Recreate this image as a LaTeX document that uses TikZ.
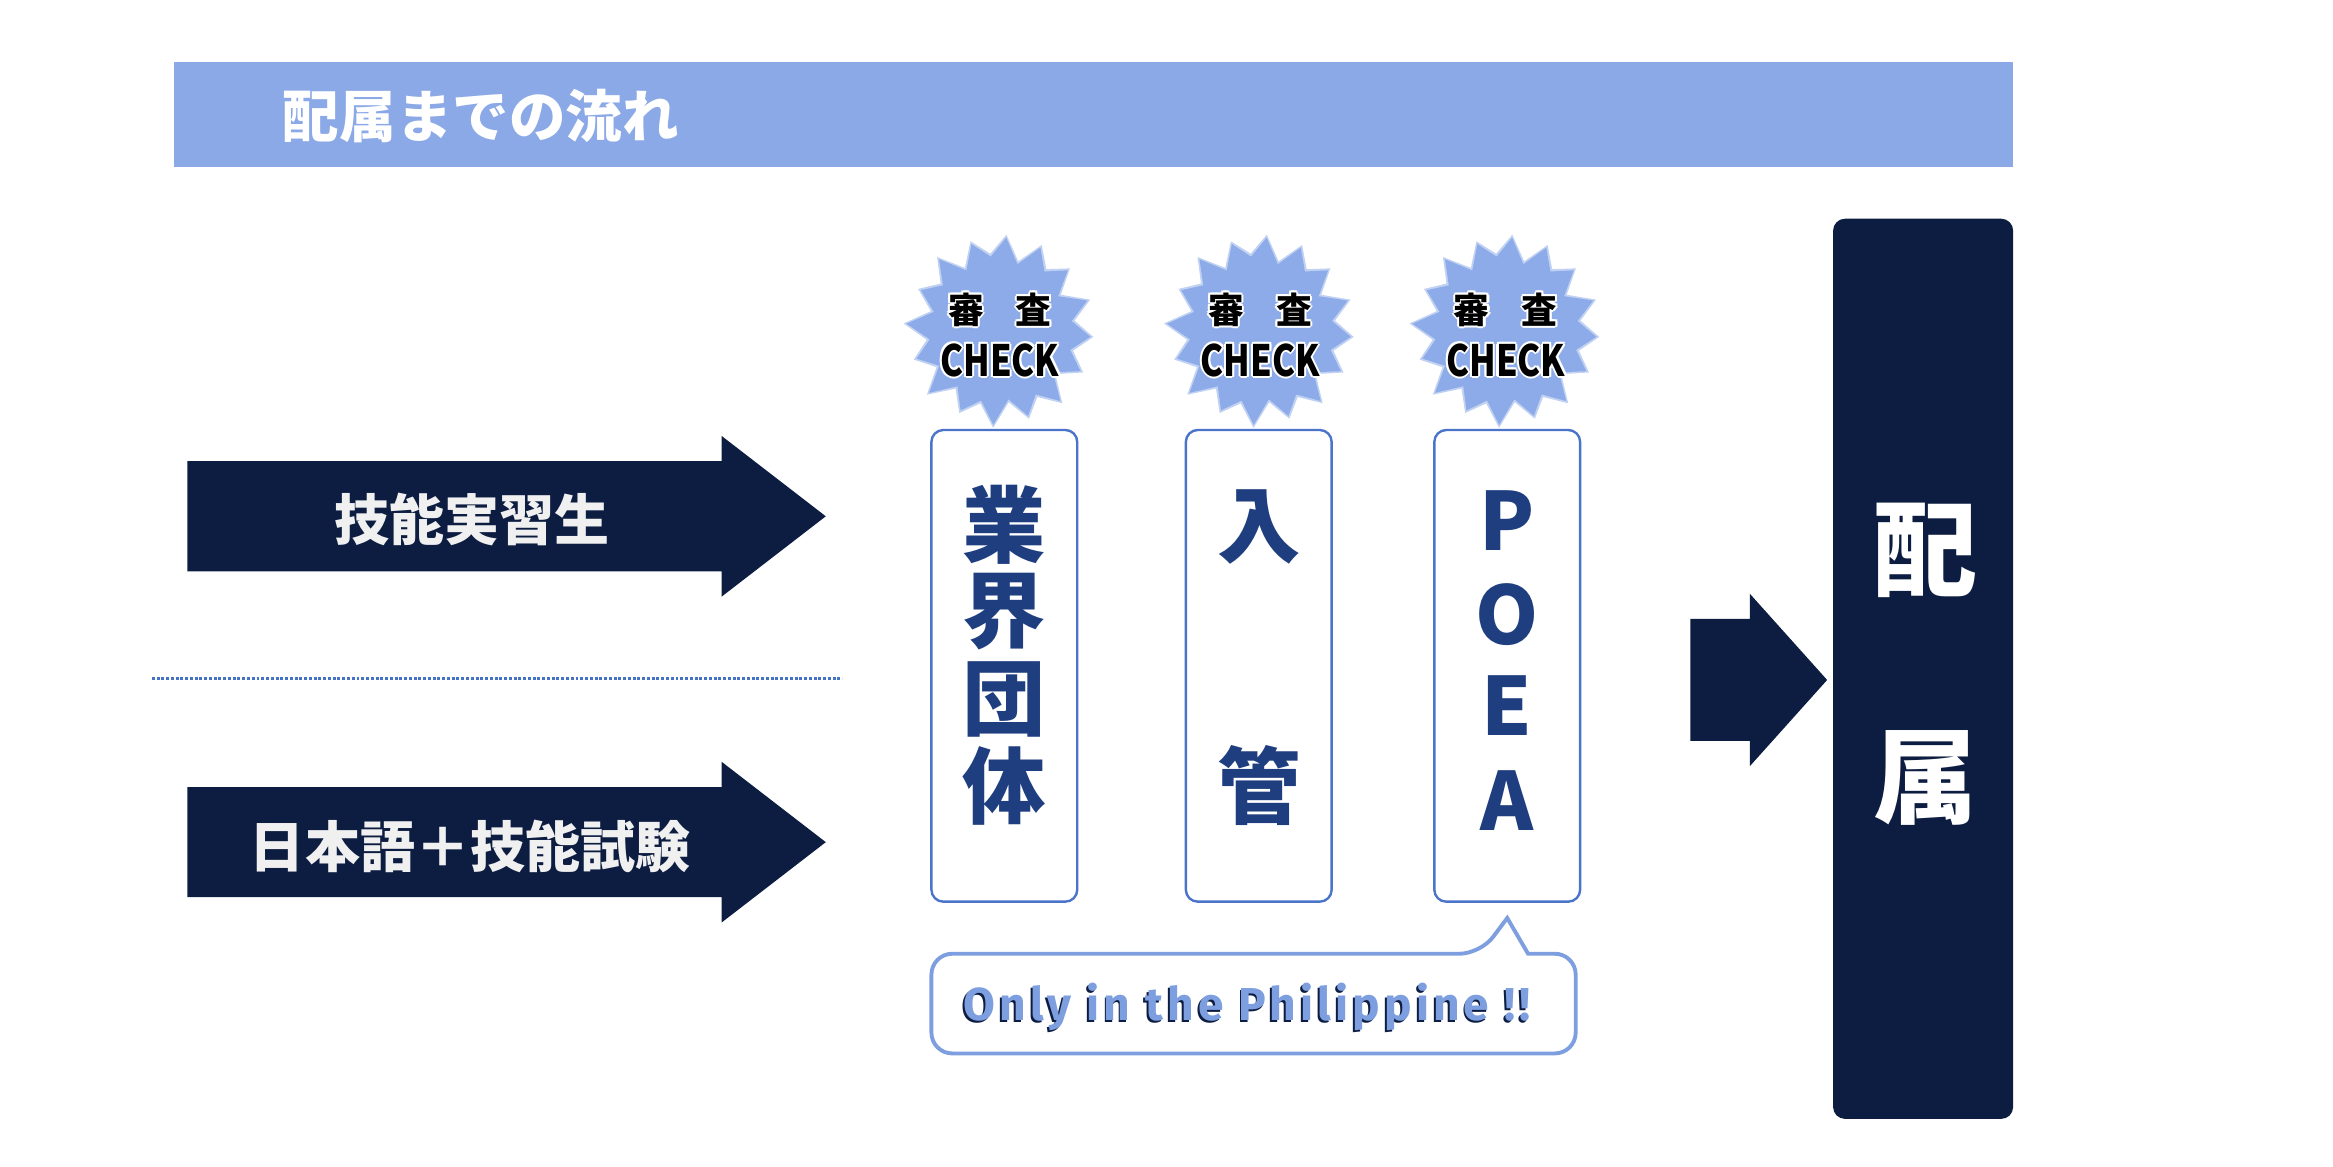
\documentclass[tikz,border=0pt]{standalone}
\usepackage{fontspec}
\newfontfamily\jp{Noto Sans CJK JP}
\newfontfamily\jpcond{Noto Sans CJK JP}[FakeStretch=0.8]
\newfontfamily\fira{Fira Sans}[LetterSpace=9]
\usetikzlibrary{calc}
\definecolor{navy}{RGB}{13,29,65}
\definecolor{barblue}{RGB}{139,169,230}
\definecolor{burstblue}{RGB}{140,171,232}
\definecolor{edgeblue}{RGB}{74,116,201}
\definecolor{textblue}{RGB}{30,62,128}
\definecolor{callblue}{RGB}{125,158,223}
\definecolor{dotblue}{RGB}{68,114,196}
\tikzset{
  titlebar/.style={fill=barblue, minimum width=1236pt, minimum height=70pt, inner sep=0pt},
  titletext/.style={text=white, font=\jp\bfseries\fontsize{38}{38}\selectfont, inner sep=0pt},
  arrowtext/.style={text=white!94!black, font=\jp\bfseries\fontsize{37}{37}\selectfont, inner sep=0pt},
  blockarrow/.style={fill=navy},
  dotline/.style={draw=dotblue, line width=1.8pt, dash pattern=on 2pt off 1.2pt},
  burstfill/.style={fill=burstblue},
  bursthalo/.style={fill=burstblue!55},
  chkjp/.style={font=\jp\bfseries\fontsize{24}{24}\selectfont, inner sep=0pt},
  chken/.style={font=\jpcond\bfseries\fontsize{29}{29}\selectfont, inner sep=0pt},
  vbox/.style={draw=edgeblue, line width=1.6pt, rounded corners=8pt, fill=white, minimum width=98pt, minimum height=317pt, inner sep=0pt},
  vjp/.style={text=textblue, font=\jp\bfseries\fontsize{56}{56}\selectfont, inner sep=0pt},
  vlat/.style={text=textblue, font=\jp\bfseries\fontsize{54}{54}\selectfont, inner sep=0pt},
  callout/.style={draw=callblue, line width=2.6pt, fill=white},
  calltext/.style={text=callblue, font=\fira\bfseries\fontsize{31}{31}\selectfont, inner sep=0pt},
  callshadow/.style={text=navy, font=\fira\bfseries\fontsize{31}{31}\selectfont, inner sep=0pt},
  bigbox/.style={fill=navy, rounded corners=8pt, minimum width=121pt, minimum height=605pt, inner sep=0pt},
  bigtext/.style={text=white, font=\jp\bfseries\fontsize{70}{70}\selectfont, inner sep=0pt}
}
\newcommand\burstat[3]{%
  \fill[bursthalo] plot[variable=\k, samples at={0,...,31}]
    ({#1+(56+7*cos(\k*180)+2*sin(\k*97))*cos(\k*11.25+4)},
     {#2+(57+7*cos(\k*180)+2*sin(\k*97))*sin(\k*11.25+4)}) -- cycle;
  \fill[burstfill] plot[variable=\k, samples at={0,...,31}]
    ({#1+(54+7*cos(\k*180)+2*sin(\k*97))*cos(\k*11.25+4)},
     {#2+(55+7*cos(\k*180)+2*sin(\k*97))*sin(\k*11.25+4)}) -- cycle;
  \foreach \dx/\dy [count=\n] in {1.4/0,-1.4/0,0/1.4,0/-1.4,1/1,1/-1,-1/1,-1/-1}{
    \node[chkjp, text=white] (#3hj\n) at (#1+\dx,208+\dy) {審\hspace{0.9em}査};
    \node[chken, text=white] (#3he\n) at (#1+\dx,242+\dy) {CHECK};
  }
  \node[chkjp, text=black] (#3j) at (#1,208) {審\hspace{0.9em}査};
  \node[chken, text=black] (#3e) at (#1,242) {CHECK};
}
\begin{document}
\begin{tikzpicture}[x=1pt,y=-1pt]
\useasboundingbox (0,0) rectangle (1568,784);
\fill[white] (0,0) rectangle (1568,784);

% title bar
\node[titlebar] (bar) at (735,77) {};
\node[titletext, anchor=west] (title) at (190,78) {配属までの流れ};

% left block arrows
\coordinate (a1tip) at (555,347);
\fill[blockarrow] (126,310) -- (485,310) -- (485,293) -- (a1tip) -- (485,401) -- (485,384) -- (126,384) -- cycle;
\node[arrowtext] (a1) at (317,349) {技能実習生};

\coordinate (a2tip) at (555,566);
\fill[blockarrow] (126,529) -- (485,529) -- (485,512) -- (a2tip) -- (485,620) -- (485,603) -- (126,603) -- cycle;
\node[arrowtext] (a2) at (316,569) {日本語＋技能試験};

% dotted separator
\coordinate (dl) at (102,456);
\coordinate (dr) at (566,456);
\draw[dotline] (dl) -- (dr);

% starbursts
\burstat{672}{222}{s1}
\burstat{847}{222}{s2}
\burstat{1012}{222}{s3}

% vertical boxes
\node[vbox] (b1) at (675,447.5) {};
\node[vbox] (b2) at (846,447.5) {};
\node[vbox] (b3) at (1013,447.5) {};

\node[vjp] (b1c1) at (675,353) {業};
\node[vjp] (b1c2) at (675,411) {界};
\node[vjp] (b1c3) at (675,470) {団};
\node[vjp] (b1c4) at (675,528) {体};

\node[vjp] (b2c1) at (846,354) {入};
\node[vjp] (b2c2) at (846,528) {管};

\node[vlat] (b3c1) at (1013,350) {P};
\node[vlat] (b3c2) at (1013,413) {O};
\node[vlat] (b3c3) at (1013,474) {E};
\node[vlat] (b3c4) at (1013,538) {A};

% callout
\draw[callout] (626,675) [rounded corners=14pt] -- (626,641) -- (995,641) [sharp corners] -- (1013,617) -- (1027,641) [rounded corners=14pt] -- (1059,641) -- (1059,708) -- (626,708) [sharp corners] -- cycle;
\node[callshadow] (cshadow) at (837,677.8) {Only in the Philippine !!};
\node[calltext] (ctext) at (838.2,676.8) {Only in the Philippine !!};

% right arrow
\coordinate (a3tip) at (1228,457);
\fill[blockarrow] (1136,416) -- (1176,416) -- (1176,399) -- (a3tip) -- (1176,515) -- (1176,498) -- (1136,498) -- cycle;

% final box
\node[bigbox] (final) at (1292.5,449.5) {};
\node[bigtext] (f1) at (1294,370) {配};
\node[bigtext] (f2) at (1294,523) {属};
\end{tikzpicture}
\end{document}
